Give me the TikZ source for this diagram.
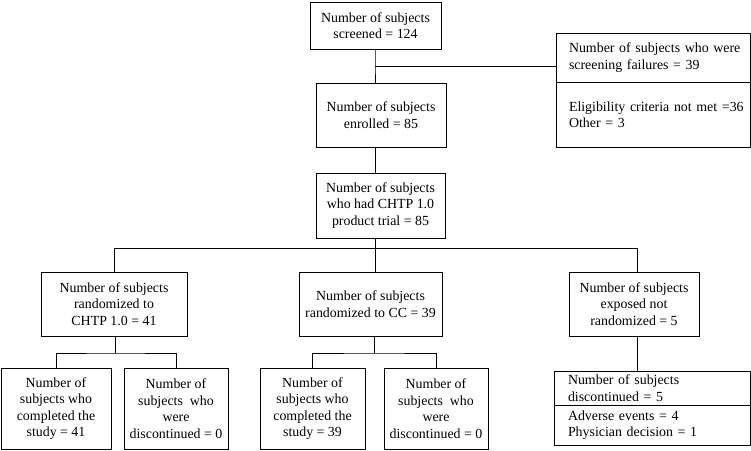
\documentclass[tikz,border=0pt]{standalone}
\usepackage{fontspec}
\setmainfont{Liberation Serif}
\begin{document}
\begin{tikzpicture}[x=1pt,y=-1pt,
  every node/.style={font=\fontsize{13.9}{16.5}\selectfont},
  cbox/.style={draw,line width=1pt,inner sep=0pt,align=center},
  lbox/.style={draw,line width=1pt,inner xsep=13pt,inner ysep=0pt,text width=168pt,align=left},
  conn/.style={line width=1pt}]
\useasboundingbox (0,0) rectangle (751,450);
% main column
\node[cbox,minimum width=131pt,minimum height=47pt] (screened) at (375.5,25.5) {Number of subjects\\screened = 124};
\node[cbox,minimum width=130pt,minimum height=64pt] (enrolled) at (381,115) {Number of subjects\\enrolled = 85};
\node[cbox,minimum width=129pt,minimum height=65pt] (trial) at (380.5,205.5) {Number of subjects\\who had CHTP 1.0\\product trial = 85};
% screening failures
\node[lbox,minimum height=49pt] (fail1) at (653,57.5) {\mbox{Number of subjects who were}\\\mbox{screening failures = 39}};
\node[lbox,minimum height=65pt] (fail2) at (653,114.5) {\mbox{Eligibility criteria not met =36}\\\mbox{Other = 3}};
% second level
\node[cbox,minimum width=146pt,minimum height=64pt] (rand) at (114,304) {Number of subjects\\randomized to\\CHTP 1.0 = 41};
\node[cbox,minimum width=143pt,minimum height=64pt] (cc) at (370.5,304) {Number of subjects\\randomized to CC = 39};
\node[cbox,minimum width=130pt,minimum height=64pt] (expo) at (634,304) {Number of subjects\\exposed not\\randomized = 5};
% third level
\node[cbox,minimum width=110pt,minimum height=81pt] (comp1) at (56,408.5) {Number of\\subjects who\\completed the\\study = 41};
\node[cbox,minimum width=104pt,minimum height=81pt] (disc1) at (176,408.5) {Number of\\subjects~ who\\were\\discontinued = 0};
\node[cbox,minimum width=105pt,minimum height=81pt] (comp2) at (312.5,408.5) {Number of\\subjects who\\completed the\\study = 39};
\node[cbox,minimum width=104pt,minimum height=81pt] (disc2) at (436,408.5) {Number of\\subjects~ who\\were\\discontinued = 0};
\node[lbox,inner xsep=14pt,minimum height=34pt] (disc5a) at (652,388) {\mbox{Number of subjects}\\\mbox{discontinued = 5}};
\node[lbox,inner xsep=14pt,minimum height=40pt] (disc5b) at (652,425) {\mbox{Adverse events = 4}\\\mbox{Physician decision = 1}};
% junctions
\coordinate (j1) at (375,66);
\coordinate (j2) at (375,248.5);
\coordinate (j3) at (637,248.5);
\coordinate (j4) at (115,353);
\coordinate (j5) at (374,353);
% connectors
\draw[conn] (screened.south -| j1) -- (j1) -- (j1 |- enrolled.north);
\draw[conn] (j1) -- (j1 -| fail1.west);
\draw[conn] (j1 |- enrolled.south) -- (j1 |- trial.north);
\draw[conn] (j1 |- trial.south) -- (j2);
\draw[conn] (rand.north) |- (j2) -- (j3) -- (j3 |- expo.north);
\draw[conn] (j2) -- (j2 |- cc.north);
\draw[conn] (j4 |- rand.south) -- (j4);
\draw[conn] (comp1.north) |- (j4) -| (disc1.north);
\draw[conn] (j5 |- cc.south) -- (j5);
\draw[conn] (comp2.north) |- (j5) -| (disc2.north);
\draw[conn] (j3 |- expo.south) -- (j3 |- disc5a.north);
\end{tikzpicture}
\end{document}
